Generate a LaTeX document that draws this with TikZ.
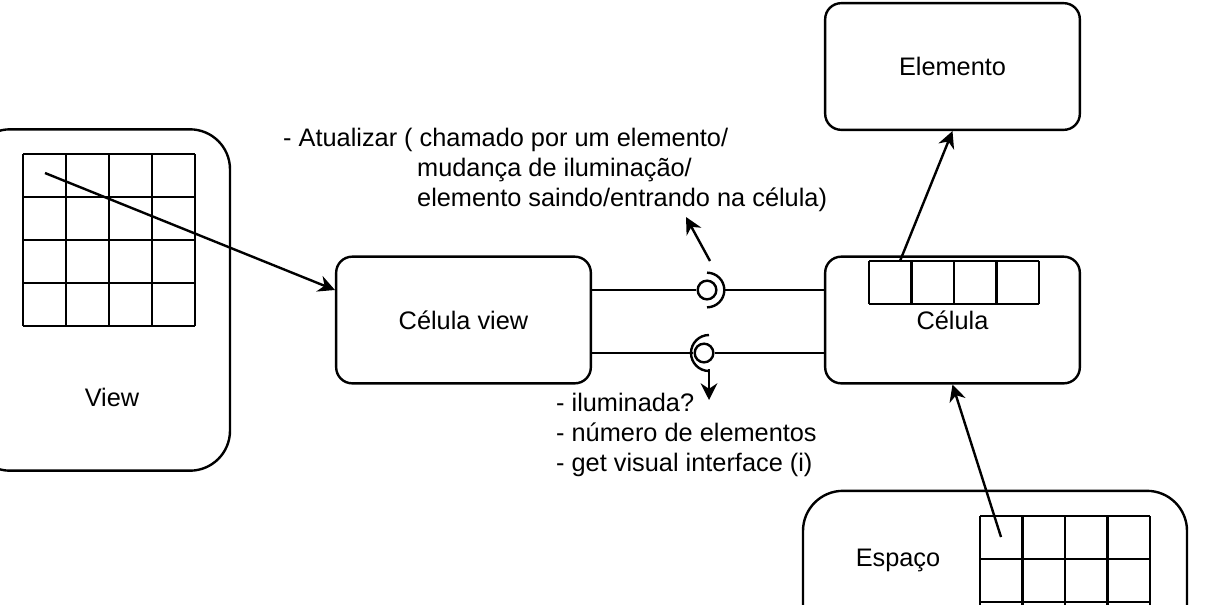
\documentclass[tikz,border=0pt]{standalone}
\usepackage{fontspec}
\setmainfont{Liberation Sans}
\usetikzlibrary{arrows.meta}
\usetikzlibrary{positioning}

\begin{document}
\begin{tikzpicture}[x=0.75pt, y=-0.75pt, line width=1.8pt,
    font=\fontsize{19}{22.5}\selectfont,
    bigbox/.style={draw, rounded corners=30pt, inner sep=0pt},
    smallbox/.style={draw, rounded corners=12pt, minimum width=191pt, minimum height=95pt, inner sep=0pt},
    ball/.style={draw, circle, minimum size=14pt, inner sep=0pt},
    arr/.style={-{Stealth[length=12.5pt, width=12.5pt]}},
    txt/.style={inner sep=0pt, align=left}]
    \useasboundingbox (0,0) rectangle (1231,604);
    \clip (0,0) rectangle (1231,604);

    % boxes
    \node [bigbox, minimum width=195pt, minimum height=256pt] (view) at (100,300) {};
    \node (viewlbl) at (112,397) {View};
    \node [smallbox] (celview) at (463.5,320) {Célula view};
    \node [smallbox] (cel) at (952.5,320) {Célula};
    \node [smallbox] (elem) at (952.5,66.5) {Elemento};
    \node [bigbox, minimum width=288pt, minimum height=157pt] (espaco) at (995,595.5) {};
    \node (espacolbl) at (898,560) {Espaço};

    % grids
    \foreach \i in {0,...,4} {
      \draw (23+43*\i,154) -- (23+43*\i,326);
      \draw (23,154+43*\i) -- (195,154+43*\i);
      \draw (869+42.5*\i,261) -- (869+42.5*\i,304);
      \draw (980+42.5*\i,516) -- (980+42.5*\i,700);
    }
    \draw (869,261) -- (1039,261);
    \draw (869,304) -- (1039,304);
    \foreach \j in {0,1,2} \draw (980,516+43*\j) -- (1150,516+43*\j);

    % ball and socket
    \node [ball] (balltop) at (707,290) {};
    \node [ball] (ballbot) at (704,353) {};
    \draw ([yshift=13pt]balltop.center) arc [start angle=90, end angle=-90, radius=13pt];
    \draw ([xshift=3.75pt, yshift=13.5pt]ballbot.center) arc [start angle=90, end angle=270, radius=13.5pt];
    \draw (celview.east |- balltop) -- (balltop);
    \draw ([xshift=13pt]balltop.center) -- (cel.west |- balltop);
    \draw (celview.east |- ballbot) -- (ballbot);
    \draw (ballbot) -- (cel.west |- ballbot);

    % texts
    \node [txt, anchor=west] (update) at (282,170) {- Atualizar ( chamado por um elemento/\\\hspace*{100.5pt}mudança de iluminação/\\\hspace*{100.5pt}elemento saindo/entrando na célula)};
    \node [txt, anchor=west] (query) at (555,435) {- iluminada?\\- número de elementos\\- get visual interface (i)};

    % arrows
    \coordinate (viewcell) at (45,173);
    \coordinate (celcell) at (900,261);
    \coordinate (espcell) at (1001,537);
    \coordinate (updfrom) at (710,261);
    \coordinate (updto) at (686,217);
    \coordinate (qryfrom) at (709,369);
    \coordinate (qryto) at (709,400);
    \draw [arr] (viewcell) -- (celview.west |- balltop);
    \draw [arr] (celcell) -- (elem.south);
    \draw [arr] (espcell) -- (cel.south);
    \draw [arr] (updfrom) -- (updto);
    \draw [arr] (qryfrom) -- (qryto);
\end{tikzpicture}
\end{document}
